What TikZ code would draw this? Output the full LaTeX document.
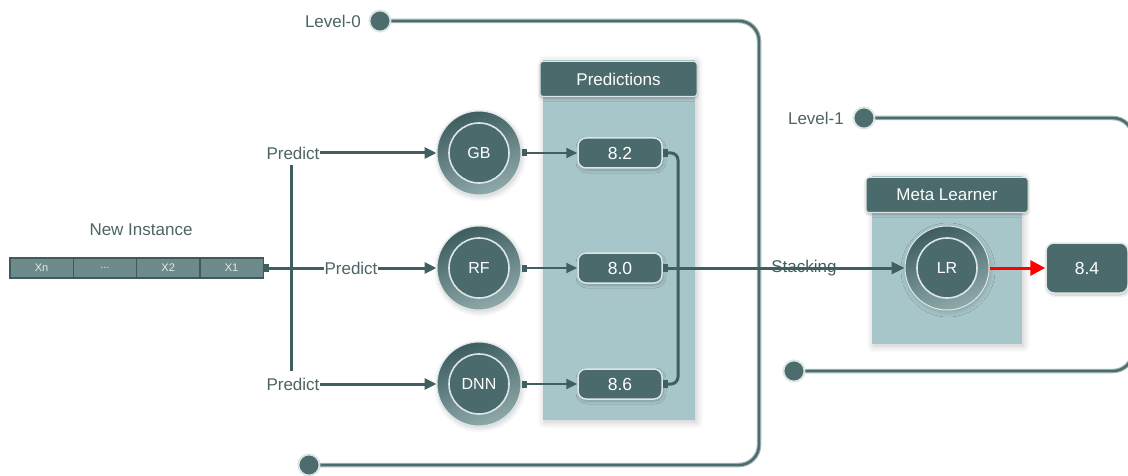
\documentclass[tikz,border=0pt]{standalone}
\usepackage{fontspec}
\setmainfont{Liberation Sans}
\usetikzlibrary{arrows.meta,shadows.blur,calc}

\definecolor{deep}{HTML}{4A6A6B}
\definecolor{wire}{HTML}{405F60}
\definecolor{panelc}{HTML}{A7C6C9}
\definecolor{txt}{HTML}{4D6364}
\definecolor{cellfill}{HTML}{6E8B8B}
\definecolor{cellline}{HTML}{3E5A5B}
\definecolor{ringtop}{HTML}{3D5D5F}
\definecolor{ringbot}{HTML}{8FA9AA}
\definecolor{frameout}{HTML}{A3B6B7}
\definecolor{framein}{HTML}{4D6C6D}
\definecolor{rim}{HTML}{DCE6E6}

\tikzset{
  lbl/.style={inner sep=0pt, text=txt, font=\fontsize{17}{20}\selectfont},
  cell/.style={draw=cellline, line width=1.3pt, fill=cellfill, text=white!80!cellfill,
    minimum width=63.3pt, minimum height=20pt, inner sep=0pt, font=\fontsize{11}{13}\selectfont},
  panel/.style={fill=panelc, draw=none,
    blur shadow={shadow blur steps=10, shadow xshift=1.5pt, shadow yshift=-2pt,
      shadow opacity=22, shadow blur radius=7pt}},
  header/.style={fill=deep, draw=rim, line width=1pt, rounded corners=3pt, text=white,
    inner sep=0pt, font=\fontsize{17}{20}\selectfont,
    blur shadow={shadow blur steps=6, shadow xshift=0pt, shadow yshift=-1.5pt,
      shadow opacity=25, shadow blur radius=3pt}},
  valbox/.style={fill=deep, draw=rim, line width=1.5pt, rounded corners=8pt, text=white,
    minimum width=84pt, minimum height=30pt, inner sep=0pt, font=\fontsize{17.5}{20}\selectfont,
    blur shadow={shadow blur steps=6, shadow xshift=1pt, shadow yshift=-2pt,
      shadow opacity=25, shadow blur radius=3pt}},
  model/.style={circle, minimum size=84pt, inner sep=0pt, top color=ringtop, bottom color=ringbot,
    shading angle=20, draw=rim, line width=1pt, text=white, font=\fontsize{16}{19}\selectfont,
    blur shadow={shadow blur steps=8, shadow xshift=1pt, shadow yshift=-2pt,
      shadow opacity=20, shadow blur radius=5pt},
    path picture={\draw[fill=deep, draw=rim, line width=1.6pt]
      (path picture bounding box.center) circle (30pt);}},
  dot/.style={circle, minimum size=21pt, inner sep=0pt, fill=framein, draw=rim, line width=1.8pt},
  conn/.style={draw=wire, line width=3pt},
  thinconn/.style={draw=wire, line width=2pt},
  tip/.style={-{Triangle[length=12pt,width=11pt]}},
  frameback/.style={draw=frameout, line width=4.5pt, rounded corners=20pt},
  framefront/.style={draw=framein, line width=2.4pt, rounded corners=20pt},
}

\begin{document}
\begin{tikzpicture}[x=1pt,y=-1pt]
\useasboundingbox (0,0) rectangle (1128,476);

% level frames
\coordinate (c0a) at (759,21);
\coordinate (c0b) at (759,465);
\coordinate (c1a) at (1133,118);
\coordinate (c1b) at (1133,371);
\node[dot] (l0a) at (380,21) {};
\node[dot] (l0b) at (309,465) {};
\node[dot] (l1a) at (864,118) {};
\node[dot] (l1b) at (794,371) {};
\draw[frameback] (l0a.center) -- (c0a) -- (c0b) -- (l0b.center);
\draw[framefront] (l0a.center) -- (c0a) -- (c0b) -- (l0b.center);
\draw[frameback] (l1a.center) -- (c1a) -- (c1b) -- (l1b.center);
\draw[framefront] (l1a.center) -- (c1a) -- (c1b) -- (l1b.center);
\node[dot] at (l0a) {};
\node[dot] at (l0b) {};
\node[dot] at (l1a) {};
\node[dot] at (l1b) {};
\node[lbl, anchor=east] (t0) at (361,21) {Level-0};
\node[lbl, anchor=east] (t1) at (844,118) {Level-1};

% panels
\path[panel] (543,60) rectangle (695,420);
\node[header, minimum width=157pt, minimum height=35pt] (ph) at (618.5,79) {Predictions};
\path[panel] (872,176) rectangle (1022,344);
\node[header, minimum width=162pt, minimum height=35pt] (mh) at (947,195) {Meta Learner};

% input instance
\node[lbl] (ni) at (141,230) {New Instance};
\node[cell] (xn) at (41.6,268) {Xn};
\node[cell] (dd) at (104.9,268) {...};
\node[cell] (x2) at (168.2,268) {X2};
\node[cell] (x1) at (231.5,268) {X1};

% predict labels
\node[lbl] (p1) at (293,153) {Predict};
\node[lbl] (p2) at (351,268) {Predict};
\node[lbl] (p3) at (293,384) {Predict};

% base models
\node[model] (gb) at (479,153) {GB};
\node[model] (rf) at (479,268) {RF};
\node[model] (dnn) at (479,384) {DNN};
\node[model] (lr) at (947,268) {LR};

% predictions
\node[valbox] (v1) at (620,153) {8.2};
\node[valbox] (v2) at (620,268) {8.0};
\node[valbox] (v3) at (620,384) {8.6};
\node[valbox, minimum width=82pt, minimum height=50pt] (v4) at (1087,268) {8.4};

% input to models
\coordinate (bt) at (291,165);
\coordinate (bb) at (291,371);
\draw[conn] (bt) -- (bb);
\draw[conn, {Square[length=5pt,width=8pt]}-] (x1.east) -- (p2.west);
\draw[conn, tip] (p1.east) -- (gb.west);
\draw[conn, tip] (p2.east) -- (rf.west);
\draw[conn, tip] (p3.east) -- (dnn.west);

% models to predictions
\draw[thinconn, {Square[length=5pt,width=7pt]}-{Triangle[length=11pt,width=10pt]}] (gb.east) -- (v1.west);
\draw[thinconn, {Square[length=5pt,width=7pt]}-{Triangle[length=11pt,width=10pt]}] (rf.east) -- (v2.west);
\draw[thinconn, {Square[length=5pt,width=7pt]}-{Triangle[length=11pt,width=10pt]}] (dnn.east) -- (v3.west);

% stacking
\coordinate (col) at (678,268);
\draw[conn, rounded corners=7pt, {Square[length=5pt,width=8pt]}-{Square[length=5pt,width=8pt]}]
  (v1.east) -| (col) |- (v3.east);
\draw[conn, {Square[length=5pt,width=8pt]}-{Triangle[length=13pt,width=12pt]}] (v2.east) -- (lr.west);
\node[lbl, text=wire] (st) at (804,268) {Stacking};

% meta learner output
\draw[red, line width=3pt, -{Triangle[length=15pt,width=15pt]}] (lr.east) -- (v4.west);
\end{tikzpicture}
\end{document}
